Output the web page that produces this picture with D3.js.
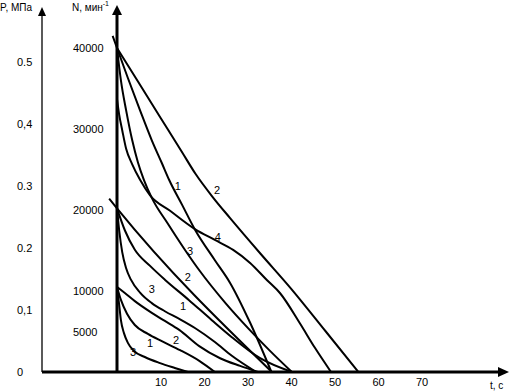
<!DOCTYPE html>
<html>
<head>
<meta charset="utf-8">
<script src="https://cdnjs.cloudflare.com/ajax/libs/d3/7.8.5/d3.min.js"></script>
<style>
  body { margin: 0; background: #fff; }
  text { font-family: "Liberation Sans", Arial, sans-serif; fill: #000; }
</style>
</head>
<body>
<div id="chart"></div>
<script>
// Run-down curves N(t) for three start speeds, plus pressure curve 4 (P axis)

// axis ticks
var tTicks = [10, 20, 30, 40, 50, 60, 70];
var nTicks = [5000, 10000, 20000, 30000, 40000];
var nTickLabels = ["5000", "10000", "20000", "30000", "40000"];
var pTicks = [0, 0.1, 0.2, 0.3, 0.4, 0.5];
var pTickLabels = ["0", "0,1", "0.2", "0.3", "0,4", "0.5"];

// start 40000 min-1
var t40_2 = [0, 5, 10, 15, 18, 22, 26, 33, 40, 48, 55.5];
var n40_2 = [40000, 35700, 31400, 27100, 24500, 21600, 19000, 14600, 10300, 5000, 0];
var t40_1 = [-1, 0, 2.5, 5.3, 8, 10.3, 12, 15, 18, 22.5, 26, 30.5, 35.5];
var n40_1 = [41500, 40000, 36300, 32300, 28600, 25800, 23700, 20600, 17500, 13800, 11000, 6200, 0];
var t40_3 = [0, 0.9, 2.1, 3.5, 4.8, 6.2, 8, 11.7, 15.6, 19, 24.8, 30.5, 35, 40.2];
var n40_3 = [40000, 36000, 32300, 28600, 25900, 23700, 21500, 18300, 15100, 12500, 8600, 5200, 2700, 0];

// start 20000 min-1
var t20_2 = [-1.8, 0, 35.6];
var n20_2 = [21400, 20200, 0];
var t20_1 = [0, 1.8, 4.1, 7.6, 11, 16.5, 21.8, 26.4, 32.9, 40.2];
var n20_1 = [20200, 17500, 15100, 13100, 11400, 8900, 6400, 4300, 1700, 0];
var t20_3 = [0, 0.5, 1.2, 2.1, 3.2, 5.3, 8, 11, 14.5, 18, 22.5, 26.4, 32];
var n20_3 = [20200, 17500, 14800, 12800, 11400, 9800, 8500, 7500, 6500, 5400, 3700, 2000, 0];

// start 10500 min-1
var t10_1 = [0, 0.9, 2.3, 4.1, 7.1, 10.3, 14.5, 19, 22.5];
var n10_1 = [10500, 8900, 7200, 5800, 4700, 3800, 2700, 1350, 0];
var t10_2 = [0, 1.8, 4.1, 8, 11, 14.3, 18.9, 23.7, 28.3, 32.4];
var n10_2 = [10500, 9750, 8750, 7300, 6300, 5200, 3200, 1700, 750, 0];
var t10_3 = [0, 0.5, 0.9, 1.6, 2.5, 3.9, 6.4, 9.9, 13.3, 16.3];
var n10_3 = [10500, 8300, 6400, 4800, 3600, 2600, 1850, 1100, 500, 0];

// curve 4, pressure P, MPa
var t4 = [0, 0.5, 1.2, 2.1, 3.5, 5.3, 7.6, 12.2, 18, 22.5, 26.7, 30.6, 34.5, 37.5, 42, 45.5, 49.2];
var p4 = [0.44, 0.415, 0.39, 0.36, 0.335, 0.31, 0.285, 0.26, 0.23, 0.213, 0.197, 0.176, 0.148, 0.127, 0.079, 0.039, 0];

// curve number labels (t, N)
var labelText = ["1", "2", "3", "2", "3", "1", "1", "2", "3"];
var labelT = [14, 23, 16.8, 16.3, 8, 15.2, 7.6, 13.6, 3.7];
var labelN = [23000, 22500, 14900, 11700, 10250, 8150, 3580, 3950, 2470];
var label4 = {t: 23.2, p: 0.218};

var width = 509, height = 392;

var svg = d3.select("#chart")
  .append("svg")
    .attr("width", width)
    .attr("height", height);

var x = d3.scaleLinear().domain([0, 80]).range([117, 465]);
var yN = d3.scaleLinear().domain([0, 40000]).range([372, 48]);
var yP = d3.scaleLinear().domain([0, 0.5]).range([372, 62]);

var pAxisX = 42;

// N curves
var nSeries = [
  [t40_2, n40_2], [t40_1, n40_1], [t40_3, n40_3],
  [t20_2, n20_2], [t20_1, n20_1], [t20_3, n20_3],
  [t10_1, n10_1], [t10_2, n10_2], [t10_3, n10_3]
].map(s => s[0].map((t, i) => ({t: t, v: s[1][i]})));

var lineN = d3.line()
  .x(d => x(d.t))
  .y(d => yN(d.v))
  .curve(d3.curveMonotoneX);

svg.selectAll("path.curve")
  .data(nSeries)
  .enter()
  .append("path")
    .attr("class", "curve")
    .attr("d", lineN)
    .style("fill", "none")
    .style("stroke", "#000")
    .style("stroke-width", 2);

// pressure curve 4
var pData = t4.map((t, i) => ({t: t, v: p4[i]}));
var lineP = d3.line()
  .x(d => x(d.t))
  .y(d => yP(d.v))
  .curve(d3.curveMonotoneX);

svg.append("path")
  .datum(pData)
  .attr("d", lineP)
  .style("fill", "none")
  .style("stroke", "#000")
  .style("stroke-width", 2);

// axis lines
svg.append("line")
  .attr("x1", pAxisX).attr("x2", pAxisX)
  .attr("y1", yN(0)).attr("y2", 14)
  .style("stroke", "#000").style("stroke-width", 1.3);

svg.append("line")
  .attr("x1", x(0)).attr("x2", x(0))
  .attr("y1", yN(0) + 1).attr("y2", 12)
  .style("stroke", "#000").style("stroke-width", 3);

svg.append("line")
  .attr("x1", pAxisX).attr("x2", 500)
  .attr("y1", yN(0)).attr("y2", yN(0))
  .style("stroke", "#000").style("stroke-width", 3);

// arrows
svg.append("path")
  .attr("d", `M${pAxisX - 4},16 L${pAxisX},7 L${pAxisX + 4},16 Z`)
  .style("fill", "#000");
svg.append("path")
  .attr("d", `M${x(0) - 5},15 L${x(0)},5 L${x(0) + 5},15 Z`)
  .style("fill", "#000");
svg.append("path")
  .attr("d", `M498,${yN(0) - 5} L509,${yN(0)} L498,${yN(0) + 5} Z`)
  .style("fill", "#000");

// tick labels
var fmtN = d3.axisLeft(yN).tickValues(nTicks).tickSize(0)
  .tickFormat((d, i) => nTickLabels[i]);
var gN = svg.append("g")
  .attr("transform", "translate(73,0)")
  .call(fmtN);
gN.select(".domain").remove();
gN.selectAll("text")
  .attr("x", 0)
  .style("text-anchor", "start")
  .style("font-family", "Liberation Sans, Arial, sans-serif")
  .style("font-size", "11px");

var fmtP = d3.axisLeft(yP).tickValues(pTicks).tickSize(0)
  .tickFormat((d, i) => pTickLabels[i]);
var gP = svg.append("g")
  .attr("transform", "translate(17,0)")
  .call(fmtP);
gP.select(".domain").remove();
gP.selectAll("text")
  .attr("x", 0)
  .style("text-anchor", "start")
  .style("font-family", "Liberation Sans, Arial, sans-serif")
  .style("font-size", "11px");

var fmtT = d3.axisBottom(x).tickValues(tTicks).tickSize(0);
var gT = svg.append("g")
  .attr("transform", `translate(0,${yN(0) + 3})`)
  .call(fmtT);
gT.select(".domain").remove();
gT.selectAll("text")
  .style("font-family", "Liberation Sans, Arial, sans-serif")
  .style("font-size", "11px");

// axis titles
svg.append("text")
  .attr("x", 0).attr("y", 11)
  .style("font-size", "10px")
  .text("P, МПа");

var nTitle = svg.append("text")
  .attr("x", 72).attr("y", 11)
  .style("font-size", "10px")
  .text("N, мин");
nTitle.append("tspan")
  .attr("dy", -5)
  .style("font-size", "7px")
  .text("-1");

svg.append("text")
  .attr("x", 490).attr("y", 389)
  .style("font-size", "10px")
  .text("t, c");

// curve numbers
svg.selectAll("text.num")
  .data(labelText)
  .enter()
  .append("text")
    .attr("class", "num")
    .attr("x", (d, i) => x(labelT[i]))
    .attr("y", (d, i) => yN(labelN[i]))
    .attr("dy", "0.35em")
    .style("text-anchor", "middle")
    .style("font-size", "11px")
    .text(d => d);

svg.append("text")
  .attr("x", x(label4.t))
  .attr("y", yP(label4.p))
  .attr("dy", "0.35em")
  .style("text-anchor", "middle")
  .style("font-size", "11px")
  .text("4");
</script>
</body>
</html>
